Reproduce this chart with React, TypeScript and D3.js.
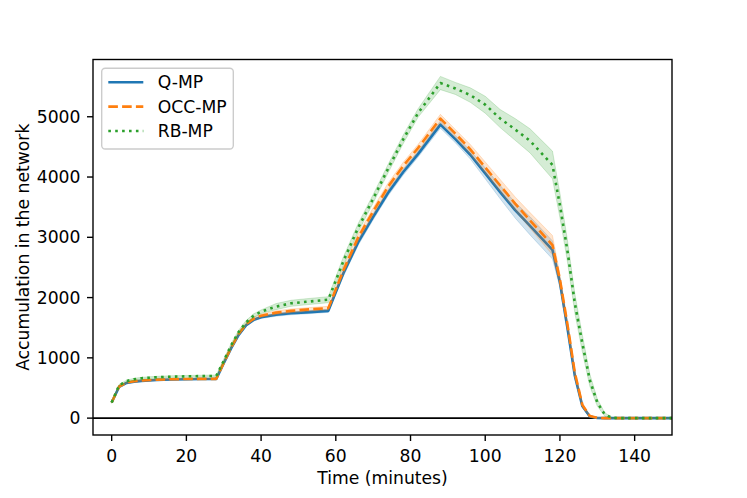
import React from "react";
import * as d3 from "d3";

const time = [0, 2, 4, 6, 8, 12, 16, 20, 24, 28, 30, 32, 34, 36, 38, 40, 44, 48, 52, 58, 62, 66, 70, 74, 78, 82, 88, 92, 96, 100, 104, 108, 112, 118, 120, 122, 124, 126, 128, 130, 132, 134, 136, 140, 150];

const qmp = [260, 520, 585, 605, 618, 632, 640, 645, 648, 650, 910, 1160, 1380, 1540, 1630, 1675, 1715, 1740, 1755, 1780, 2400, 2920, 3340, 3740, 4080, 4380, 4870, 4630, 4370, 4060, 3750, 3450, 3190, 2790, 2250, 1500, 700, 200, 27, 3, 0, 0, 0, 0, 0];
const qmpBand = [10, 10, 10, 10, 10, 10, 10, 10, 10, 10, 20, 20, 20, 20, 20, 20, 25, 25, 25, 25, 50, 50, 50, 50, 50, 50, 60, 60, 70, 90, 110, 130, 150, 150, 80, 60, 50, 30, 15, 0, 0, 0, 0, 0, 0];

const occmp = [260, 525, 590, 612, 625, 638, 645, 650, 652, 652, 920, 1175, 1400, 1560, 1650, 1700, 1750, 1780, 1800, 1825, 2450, 3000, 3430, 3840, 4180, 4480, 4970, 4720, 4460, 4160, 3860, 3560, 3280, 2870, 2300, 1560, 750, 220, 35, 5, 0, 0, 0, 0, 0];
const occmpBand = [10, 10, 10, 10, 10, 10, 10, 10, 10, 10, 25, 25, 25, 25, 25, 25, 30, 30, 30, 30, 60, 60, 60, 60, 60, 60, 70, 70, 80, 90, 100, 110, 130, 160, 80, 60, 50, 30, 15, 0, 0, 0, 0, 0, 0];

const rbmp = [260, 545, 615, 645, 662, 678, 688, 693, 697, 700, 950, 1210, 1430, 1590, 1700, 1765, 1850, 1905, 1930, 1965, 2600, 3160, 3640, 4140, 4620, 5060, 5560, 5470, 5360, 5200, 4970, 4790, 4600, 4200, 3530, 2780, 1900, 1240, 630, 260, 60, 5, 0, 0, 0];
const rbmpBand = [15, 15, 15, 15, 15, 15, 15, 15, 15, 15, 30, 30, 30, 30, 30, 30, 50, 50, 50, 50, 70, 70, 70, 70, 70, 70, 110, 100, 120, 140, 150, 180, 200, 230, 200, 180, 160, 140, 100, 60, 30, 5, 0, 0, 0];

const seriesNames = ["Q-MP", "OCC-MP", "RB-MP"];
const seriesColors = ["#1f77b4", "#ff7f0e", "#2ca02c"];
const seriesDash = ["none", "9.6,4.2", "2.6,4.3"];
const seriesValues = [qmp, occmp, rbmp];
const seriesBands = [qmpBand, occmpBand, rbmpBand];

const xTicks = [0, 20, 40, 60, 80, 100, 120, 140];
const yTicks = [0, 1000, 2000, 3000, 4000, 5000];

const W = 747;
const H = 498;
const L = 93, R = 672, T = 59.5, B = 435;
const FS = 17.2;

export default function App() {
  const x = d3.scaleLinear().domain([-5, 150]).range([L, R]);
  const y = d3.scaleLinear().domain([-280, 5950]).range([B, T]);
  const font = "'DejaVu Sans', sans-serif";

  const line = d3
    .line<number>()
    .x((_, i) => x(time[i]))
    .y((d) => y(d));

  return (
    <svg
      width={W}
      height={H}
      style={{ position: "absolute", left: 0, top: 0, background: "#fff" }}
      fontFamily={font}
    >
      <rect x={0} y={0} width={W} height={H} fill="#fff" />
      <defs>
        <clipPath id="plotclip">
          <rect x={L} y={T} width={R - L} height={B - T} />
        </clipPath>
      </defs>
      <g clipPath="url(#plotclip)">
        <line x1={L} x2={R} y1={y(0)} y2={y(0)} stroke="#000" strokeWidth={1.6} />
        {seriesValues.map((vals, si) => {
          const band = seriesBands[si];
          const area = d3
            .area<number>()
            .x((_, i) => x(time[i]))
            .y0((d, i) => y(Math.max(0, d - band[i])))
            .y1((d, i) => y(d + band[i]));
          return (
            <g key={si}>
              <path
                d={line(vals) || ""}
                fill="none"
                stroke={seriesColors[si]}
                strokeWidth={2.6}
                strokeDasharray={seriesDash[si]}
                strokeLinejoin="round"
              />
              <path
                d={area(vals) || ""}
                fill={seriesColors[si]}
                fillOpacity={0.2}
                stroke={seriesColors[si]}
                strokeOpacity={0.2}
                strokeWidth={1}
              />
            </g>
          );
        })}
      </g>
      <rect x={L} y={T} width={R - L} height={B - T} fill="none" stroke="#000" strokeWidth={1.39} />
      {xTicks.map((t) => (
        <g key={t}>
          <line x1={x(t)} x2={x(t)} y1={B} y2={B + 6} stroke="#000" strokeWidth={1.39} />
          <text x={x(t)} y={461.5} textAnchor="middle" fontSize={FS} fill="#000">
            {t}
          </text>
        </g>
      ))}
      {yTicks.map((t) => (
        <g key={t}>
          <line x1={L - 6} x2={L} y1={y(t)} y2={y(t)} stroke="#000" strokeWidth={1.39} />
          <text x={L - 12.5} y={y(t)} dy="0.35em" textAnchor="end" fontSize={FS} fill="#000">
            {t}
          </text>
        </g>
      ))}
      <text x={(L + R) / 2} y={484} textAnchor="middle" fontSize={FS} fill="#000">
        Time (minutes)
      </text>
      <text
        transform={`translate(28.5,${(T + B) / 2}) rotate(-90)`}
        textAnchor="middle"
        fontSize={FS}
        fill="#000"
      >
        Accumulation in the network
      </text>
      <rect x={101.7} y={68.3} width={131.6} height={80.7} rx={3.5} fill="#fff" fillOpacity={0.8} stroke="#cccccc" strokeWidth={1.39} />
      {seriesNames.map((n, i) => {
        const ly = 82.3 + i * 24.35;
        return (
          <g key={n}>
            <line x1={108.3} x2={143.3} y1={ly} y2={ly} stroke={seriesColors[i]} strokeWidth={2.6} strokeDasharray={seriesDash[i]} />
            <text x={157.7} y={ly} dy="0.35em" fontSize={FS} fill="#000">
              {n}
            </text>
          </g>
        );
      })}
    </svg>
  );
}
